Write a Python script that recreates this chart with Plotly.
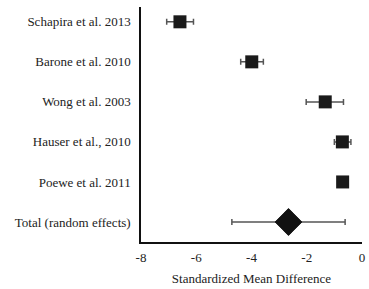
import plotly.graph_objects as go

studies = ["Schapira et al. 2013", "Barone et al. 2010", "Wong et al. 2003",
           "Hauser et al., 2010", "Poewe et al. 2011"]
smd = [-6.59, -3.99, -1.33, -0.71, -0.70]
ci_low = [-7.07, -4.39, -2.02, -1.00, -0.80]
ci_high = [-6.10, -3.57, -0.67, -0.40, -0.60]

total_label = "Total (random effects)"
total_smd = -2.66
total_low = -4.71
total_high = -0.61

x_ticks = [-8, -6, -4, -2, 0]

labels = studies + [total_label]
ypos = list(range(len(labels)))

font = dict(family="Liberation Serif, DejaVu Serif, serif", size=13, color="#222")

fig = go.Figure()
fig.add_trace(go.Scatter(
    x=smd, y=ypos[:len(studies)], mode="markers",
    marker=dict(symbol="square", size=13, color="#1a1a1a"),
    error_x=dict(type="data", symmetric=False,
                 array=[h - m for h, m in zip(ci_high, smd)],
                 arrayminus=[m - l for m, l in zip(smd, ci_low)],
                 color="#555", thickness=1.5, width=3),
    showlegend=False, cliponaxis=False))
fig.add_trace(go.Scatter(
    x=[total_smd], y=[ypos[-1]], mode="markers",
    marker=dict(symbol="diamond", size=21, color="#111"),
    error_x=dict(type="data", symmetric=False,
                 array=[total_high - total_smd],
                 arrayminus=[total_smd - total_low],
                 color="#555", thickness=1.5, width=3),
    showlegend=False, cliponaxis=False))
fig.add_trace(go.Scatter(
    x=[total_smd], y=[ypos[-1]], mode="markers",
    marker=dict(symbol="diamond", size=21, color="#111"),
    showlegend=False, hoverinfo="skip", cliponaxis=False))

fig.update_layout(
    width=369, height=289,
    margin=dict(l=141, r=7, t=7, b=47, autoexpand=False),
    plot_bgcolor="white", paper_bgcolor="white",
    font=font,
    xaxis=dict(range=[-8, 0.001], tickvals=x_ticks, ticktext=[str(t) for t in x_ticks],
               showgrid=False, zeroline=False, showline=True, linecolor="#111",
               linewidth=1.5, ticks="", ticklabelstandoff=3, automargin=False,
               title=dict(text="Standardized Mean Difference", standoff=10, font=font)),
    yaxis=dict(range=[5.5, -0.37], tickvals=ypos, ticktext=labels,
               showgrid=False, zeroline=False, showline=True, linecolor="#111",
               linewidth=1.5, ticks="", ticklabelstandoff=6, automargin=False),
)

fig.write_html("out.html", config={"displayModeBar": False},
               post_script="document.body.style.margin='0';")
